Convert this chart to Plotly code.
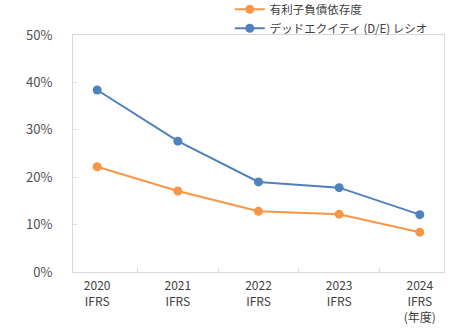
import plotly.graph_objects as go

categories = ["2020<br>IFRS", "2021<br>IFRS", "2022<br>IFRS", "2023<br>IFRS", "2024<br>IFRS<br>(年度)"]
debt_dependency = [22.2, 17.1, 12.8, 12.2, 8.4]
de_ratio = [38.4, 27.6, 19.0, 17.8, 12.1]
series_names = ["有利子負債依存度", "デッドエクイティ (D/E) レシオ"]

FONT = "Noto Sans CJK JP, Noto Sans, sans-serif"
fig = go.Figure()
fig.add_trace(go.Scatter(x=categories, y=debt_dependency, name=series_names[0], mode="lines+markers",
                         line=dict(color="#F79646", width=2), marker=dict(size=9, color="#F79646")))
fig.add_trace(go.Scatter(x=categories, y=de_ratio, name=series_names[1], mode="lines+markers",
                         line=dict(color="#4F81BD", width=2), marker=dict(size=9, color="#4F81BD")))

fig.update_layout(
    width=455, height=330,
    margin=dict(l=73, r=11, t=35, b=58, autoexpand=False),
    paper_bgcolor="white", plot_bgcolor="white",
    font=dict(family=FONT, size=12, color="#404040"),
    showlegend=True,
    legend=dict(xref="container", yref="paper", x=0.505, y=1.17, xanchor="left", yanchor="top",
                orientation="v", font=dict(size=11.5, color="#404040"), itemwidth=30,
                tracegroupgap=0, bgcolor="rgba(0,0,0,0)", borderwidth=0),
    xaxis=dict(type="category", showgrid=False, showline=True, linecolor="#D9D9D9", linewidth=1,
               mirror=True, ticks="inside", tickson="boundaries", ticklen=4, tickcolor="#D9D9D9",
               tickfont=dict(size=12, color="#404040"), ticklabelstandoff=3, tickangle=0,
               fixedrange=True),
    yaxis=dict(range=[0, 50], dtick=10, ticksuffix="%", showgrid=False, showline=True,
               linecolor="#D9D9D9", linewidth=1, mirror=True, ticks="inside", ticklen=4,
               tickcolor="#D9D9D9", zeroline=False, tickfont=dict(size=13, color="#505050"),
               ticklabelstandoff=17),
)
fig.write_html("out.html")
